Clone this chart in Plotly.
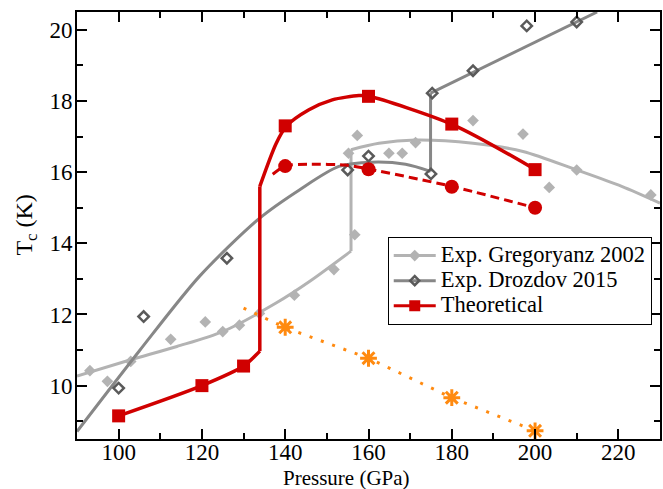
import plotly.graph_objects as go

# ---------------- data ----------------
greg_p = [93.1, 97.3, 102.9, 112.5, 120.8, 125.0, 129.0, 133.8, 142.2, 151.7,
          155.2, 156.7, 157.3, 164.9, 168.1, 171.3, 185.1, 197.1, 203.4, 210.0, 227.8]
greg_tc = [10.42, 10.12, 10.68, 11.30, 11.79, 11.52, 11.70, 12.03, 12.54, 13.26,
           16.53, 14.24, 17.03, 16.53, 16.53, 16.83, 17.45, 17.07, 15.57, 16.06, 15.36]

greg_fit_lo_p = [90.0, 102.7, 114.0, 125.0, 137.8, 146.0, 155.8]
greg_fit_lo_tc = [10.27, 10.72, 11.10, 11.52, 12.32, 12.94, 13.78]
greg_jump_p = [155.8, 155.8]
greg_jump_tc = [13.78, 16.63]
greg_fit_hi_p = [155.8, 162.5, 171.3, 185.1, 197.1, 210.0, 220.8, 230.0]
greg_fit_hi_tc = [16.63, 16.81, 16.90, 16.81, 16.58, 16.06, 15.60, 15.13]

droz_p = [100.0, 106.0, 126.0, 155.0, 160.0, 175.0, 175.3, 185.1, 198.0, 210.0]
droz_tc = [9.93, 11.94, 13.58, 16.06, 16.45, 15.95, 18.22, 18.85, 20.11, 20.22]

droz_fit_lo_p = [90.0, 105.0, 119.4, 133.8, 143.4, 152.9, 160.9, 168.9, 174.9]
droz_fit_lo_tc = [8.71, 10.98, 13.07, 14.70, 15.50, 16.16, 16.28, 16.22, 16.02]
droz_jump_p = [174.9, 174.9]
droz_jump_tc = [16.02, 18.22]
droz_fit_hi_p = [174.9, 214.9]
droz_fit_hi_tc = [18.22, 20.50]

theo_p = [100, 120, 130, 140, 160, 180, 200]
theo_tc = [9.15, 10.00, 10.55, 17.30, 18.13, 17.35, 16.07]

theo_fit_lo_p = [100.0, 120.0, 130.0, 133.9]
theo_fit_lo_tc = [9.15, 10.00, 10.55, 10.97]
theo_jump_p = [133.9, 133.9]
theo_jump_tc = [10.97, 15.60]
theo_fit_hi_p = [133.9, 137.8, 140.2, 145.7, 151.3, 157.7, 160.1, 180.3, 200.2]
theo_fit_hi_tc = [15.60, 16.80, 17.28, 17.75, 18.03, 18.15, 18.13, 17.33, 16.06]

theo2_p = [140, 160, 180, 200]
theo2_tc = [16.17, 16.08, 15.59, 15.00]
theo2_fit_p = [137.0, 140.0, 146.0, 154.5, 160.0, 180.0, 200.0]
theo2_fit_tc = [15.94, 16.18, 16.22, 16.20, 16.09, 15.60, 15.00]

orange_p = [140, 160, 180, 200]
orange_tc = [11.64, 10.77, 9.66, 8.73]
orange_fit_p = [130, 140, 160, 180, 200]
orange_fit_tc = [12.18, 11.63, 10.77, 9.66, 8.73]

x_ticks = [100, 120, 140, 160, 180, 200, 220]
y_ticks = [10, 12, 14, 16, 18, 20]

legend_names = ["Exp. Gregoryanz 2002", "Exp. Drozdov 2015", "Theoretical"]

# ---------------- styles ----------------
LIGHT = "#b3b3b3"
MID = "#878787"
DARK = "#5a5a5a"
RED = "#d00000"
ORANGE = "#ff8a10"
FONT = "Liberation Serif, Times New Roman, Times, serif"

fig = go.Figure()


def add_line(x, y, color, width, shape="linear", dash="solid", smoothing=1.0):
    fig.add_trace(go.Scatter(
        x=x, y=y, mode="lines", showlegend=False, hoverinfo="skip",
        line=dict(color=color, width=width, shape=shape, dash=dash,
                  smoothing=smoothing if shape == "spline" else None)))


def big(name):
    return "<span style='font-size:22.5px'>" + name + "</span>"


# Gregoryanz 2002
add_line(greg_fit_lo_p, greg_fit_lo_tc, LIGHT, 3, "spline", smoothing=0.8)
add_line(greg_jump_p, greg_jump_tc, LIGHT, 3)
add_line(greg_fit_hi_p, greg_fit_hi_tc, LIGHT, 3, "spline", smoothing=0.8)
fig.add_trace(go.Scatter(x=greg_p, y=greg_tc, mode="markers", showlegend=False,
                         marker=dict(symbol="diamond", size=9, color=LIGHT)))

# Drozdov 2015
add_line(droz_fit_lo_p, droz_fit_lo_tc, MID, 3, "spline", smoothing=0.8)
add_line(droz_jump_p, droz_jump_tc, MID, 3)
add_line(droz_fit_hi_p, droz_fit_hi_tc, MID, 3)
fig.add_trace(go.Scatter(x=droz_p, y=droz_tc, mode="markers", showlegend=False,
                         cliponaxis=False,
                         marker=dict(symbol="diamond-open", size=8,
                                     color=DARK, line=dict(color=DARK, width=2.5))))

# orange dotted
add_line(orange_fit_p, orange_fit_tc, ORANGE, 3, dash="3px,9px")
fig.add_trace(go.Scatter(x=orange_p, y=orange_tc, mode="markers", showlegend=False,
                         cliponaxis=False,
                         marker=dict(symbol="asterisk-open", size=14,
                                     color=ORANGE, line=dict(color=ORANGE, width=3))))

# theoretical
add_line(theo_fit_lo_p, theo_fit_lo_tc, RED, 3.5, "spline", smoothing=0.8)
add_line(theo_jump_p, theo_jump_tc, RED, 3.5)
add_line(theo_fit_hi_p, theo_fit_hi_tc, RED, 3.5, "spline", smoothing=0.8)
fig.add_trace(go.Scatter(x=theo_p, y=theo_tc, mode="markers", showlegend=False,
                         marker=dict(symbol="square", size=13, color=RED)))

add_line(theo2_fit_p, theo2_fit_tc, RED, 3, "spline", dash="9px,5px", smoothing=0.6)
fig.add_trace(go.Scatter(x=theo2_p, y=theo2_tc, mode="markers", showlegend=False,
                         marker=dict(symbol="circle", size=14, color=RED)))

# legend entries
fig.add_trace(go.Scatter(x=[None], y=[None], mode="lines+markers",
                         name=big(legend_names[0]),
                         line=dict(color=LIGHT, width=3),
                         marker=dict(symbol="diamond", size=9, color=LIGHT)))
fig.add_trace(go.Scatter(x=[None], y=[None], mode="lines+markers",
                         name=big(legend_names[1]),
                         line=dict(color=MID, width=3),
                         marker=dict(symbol="diamond-open", size=7, color=DARK,
                                     line=dict(color=DARK, width=2.5))))
fig.add_trace(go.Scatter(x=[None], y=[None], mode="lines+markers",
                         name=big(legend_names[2]),
                         line=dict(color=RED, width=3),
                         marker=dict(symbol="square", size=11, color=RED)))

axis_common = dict(
    showline=True, linecolor="black", linewidth=2, mirror="allticks",
    ticks="inside", tickcolor="black", tickwidth=2, ticklen=10,
    showgrid=False, zeroline=False,
    tickfont=dict(family=FONT, size=23, color="black"),
)

fig.update_xaxes(range=[90, 230], tickvals=x_ticks, ticklabelstandoff=-9,
                 minor=dict(dtick=10, tick0=90, ticks="inside", ticklen=6,
                            tickwidth=2, tickcolor="black"),
                 **axis_common)
fig.update_yaxes(range=[8.5, 20.5], tickvals=y_ticks, ticklabelstandoff=-2,
                 minor=dict(dtick=1, tick0=8, ticks="inside", ticklen=6,
                            tickwidth=2, tickcolor="black"),
                 **axis_common)

fig.update_layout(
    width=663, height=489,
    margin=dict(l=77, r=1, t=12, b=50),
    plot_bgcolor="white", paper_bgcolor="white",
    font=dict(family=FONT, color="black"),
    legend=dict(x=0.533, y=0.473, xanchor="left", yanchor="top",
                bgcolor="white", bordercolor="black", borderwidth=1,
                font=dict(family=FONT, size=17, color="black"),
                itemwidth=42, tracegroupgap=0),
    annotations=[
        dict(text="Pressure (GPa)", xref="paper", yref="paper",
             x=0.463, y=-0.092, xanchor="center", yanchor="middle",
             showarrow=False, font=dict(family=FONT, size=21, color="black")),
        dict(text="T<sub>c</sub> (K)", xref="paper", yref="paper",
             x=-0.089, y=0.5, xanchor="center", yanchor="middle", textangle=-90,
             showarrow=False, font=dict(family=FONT, size=24, color="black")),
    ],
)

fig.write_html("out.html", config={"displayModeBar": False},
               post_script="document.body.style.margin='0';document.body.style.padding='0';")
